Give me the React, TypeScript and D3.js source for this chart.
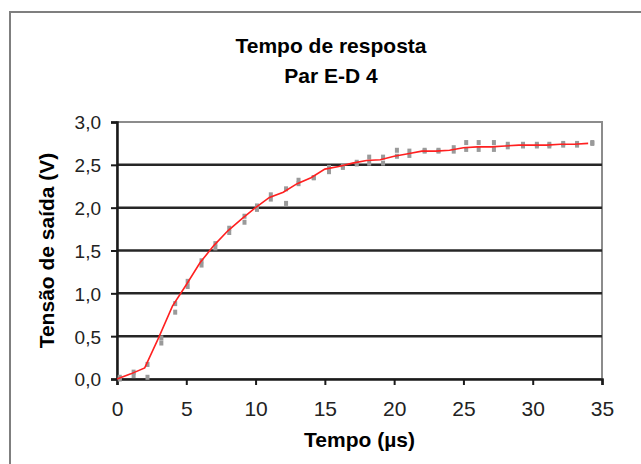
import React, { useEffect, useRef } from "react";
import * as d3 from "d3";

// tempo (us) of the averaged curve
const lineTimes = [0, 1, 2, 3, 4, 5, 6, 7, 8, 9, 10, 11, 12, 13, 14, 15, 16, 17, 18, 19, 20, 21, 22, 23, 24, 25, 26, 27, 28, 29, 30, 31, 32, 33, 34];
const lineValues = [0.0, 0.06, 0.13, 0.48, 0.85, 1.1, 1.36, 1.56, 1.73, 1.87, 2.0, 2.12, 2.18, 2.28, 2.35, 2.45, 2.48, 2.52, 2.55, 2.56, 2.6, 2.63, 2.66, 2.66, 2.67, 2.7, 2.71, 2.71, 2.72, 2.73, 2.73, 2.73, 2.74, 2.74, 2.75];

// measured points (two readings per instant)
const pointTimes = [0.2, 1.2, 2.2, 3.2, 4.2, 5.1, 6.1, 7.1, 8.1, 9.2, 10.1, 11.1, 12.2, 13.1, 14.2, 15.3, 16.3, 17.3, 18.2, 19.2, 20.2, 21.1, 22.2, 23.2, 24.3, 25.2, 26.1, 27.2, 28.2, 29.3, 30.3, 31.2, 32.2, 33.2, 34.3];
const readingA = [0.02, 0.08, 0.17, 0.48, 0.88, 1.14, 1.38, 1.58, 1.76, 1.9, 2.02, 2.15, 2.22, 2.32, 2.35, 2.47, 2.49, 2.53, 2.59, 2.59, 2.67, 2.66, 2.67, 2.67, 2.7, 2.76, 2.76, 2.76, 2.74, 2.74, 2.74, 2.74, 2.75, 2.75, 2.76];
const readingB = [0.0, 0.04, 0.02, 0.42, 0.78, 1.08, 1.33, 1.53, 1.71, 1.83, 1.98, 2.1, 2.05, 2.28, 2.35, 2.42, 2.47, 2.51, 2.52, 2.52, 2.6, 2.61, 2.66, 2.66, 2.66, 2.68, 2.68, 2.68, 2.71, 2.72, 2.72, 2.72, 2.73, 2.73, 2.75];

const xTicks = [0, 5, 10, 15, 20, 25, 30, 35];
const yTicks = [0, 0.5, 1, 1.5, 2, 2.5, 3];

export default function App() {
  const ref = useRef<HTMLDivElement>(null);

  useEffect(() => {
    document.body.style.margin = "0";
    const width = 641;
    const height = 464;
    const margin = { left: 117, top: 122, right: 39, bottom: 85 };
    const innerWidth = width - margin.left - margin.right;
    const innerHeight = height - margin.top - margin.bottom;
    const font = "'Liberation Sans', Arial, sans-serif";

    d3.select(ref.current).selectAll("*").remove();
    const svg = d3
      .select(ref.current)
      .append("svg")
      .attr("width", width)
      .attr("height", height)
      .style("display", "block")
      .style("background", "#fff");

    // chart frame
    svg.append("rect")
      .attr("x", 10).attr("y", 12)
      .attr("width", 660).attr("height", 480)
      .attr("fill", "#fff")
      .attr("stroke", "#7f7f7f")
      .attr("stroke-width", 2);

    const xScale = d3.scaleLinear().domain([0, 35]).range([0, innerWidth]);
    const yScale = d3.scaleLinear().domain([0, 3]).range([innerHeight, 0]);

    const g = svg.append("g").attr("transform", `translate(${margin.left},${margin.top})`);

    // plot border (gray)
    g.append("rect")
      .attr("width", innerWidth).attr("height", innerHeight)
      .attr("fill", "#fff")
      .attr("stroke", "#8c8c8c")
      .attr("stroke-width", 2);

    // gridlines
    g.selectAll(".grid")
      .data(yTicks.filter((d) => d > 0 && d < 3))
      .enter()
      .append("line")
      .attr("x1", 0).attr("x2", innerWidth)
      .attr("y1", (d) => yScale(d)).attr("y2", (d) => yScale(d))
      .attr("stroke", "#262626")
      .attr("stroke-width", 2.5);

    const yAxisG = g.append("g")
      .call(d3.axisLeft(yScale).tickValues(yTicks).tickSize(6).tickPadding(10)
        .tickFormat((d) => d3.format(".1f")(d as number).replace(".", ",")));
    yAxisG.select(".domain").attr("stroke", "#1a1a1a").attr("stroke-width", 2.5);
    yAxisG.selectAll(".tick line").attr("stroke", "#1a1a1a").attr("stroke-width", 2);
    yAxisG.selectAll(".tick text")
      .style("font-family", font).style("font-size", "19px").attr("fill", "#222").attr("dy", "0.36em");

    const xAxisG = g.append("g")
      .attr("transform", `translate(0,${innerHeight})`)
      .call(d3.axisBottom(xScale).tickValues(xTicks).tickSize(6).tickPadding(16));
    xAxisG.select(".domain").attr("stroke", "#1a1a1a").attr("stroke-width", 2.5);
    xAxisG.selectAll(".tick line").attr("stroke", "#1a1a1a").attr("stroke-width", 2);
    xAxisG.selectAll(".tick text")
      .style("font-family", font).style("font-size", "21px").attr("fill", "#222");

    // measured points
    const pts = pointTimes.flatMap((t, i) => [
      { t, v: readingA[i] },
      { t, v: readingB[i] },
    ]);
    g.selectAll(".pt")
      .data(pts)
      .enter()
      .append("rect")
      .attr("x", (d) => xScale(d.t) - 2)
      .attr("y", (d) => yScale(d.v) - 2.5)
      .attr("width", 4)
      .attr("height", 5)
      .attr("fill", "#9a9a9a");

    // averaged curve
    const line = d3.line<number>()
      .x((d, i) => xScale(lineTimes[i]))
      .y((d) => yScale(d));
    g.append("path")
      .datum(lineValues)
      .attr("d", line)
      .attr("fill", "none")
      .attr("stroke", "#ff2020")
      .attr("stroke-width", 1.6);

    // titles
    svg.append("text")
      .attr("x", 331).attr("y", 53)
      .attr("text-anchor", "middle")
      .style("font-family", font).style("font-size", "21px").style("font-weight", "bold")
      .text("Tempo de resposta");
    svg.append("text")
      .attr("x", 331).attr("y", 83)
      .attr("text-anchor", "middle")
      .style("font-family", font).style("font-size", "21px").style("font-weight", "bold")
      .text("Par E-D 4");

    svg.append("text")
      .attr("x", margin.left + innerWidth / 2).attr("y", 447)
      .attr("text-anchor", "middle")
      .style("font-family", font).style("font-size", "21px").style("font-weight", "bold")
      .text("Tempo (µs)");

    svg.append("text")
      .attr("transform", `translate(54,${margin.top + innerHeight / 2}) rotate(-90)`)
      .attr("text-anchor", "middle")
      .style("font-family", font).style("font-size", "21px").style("font-weight", "bold")
      .text("Tensão de saída (V)");
  }, []);

  return <div ref={ref}></div>;
}
